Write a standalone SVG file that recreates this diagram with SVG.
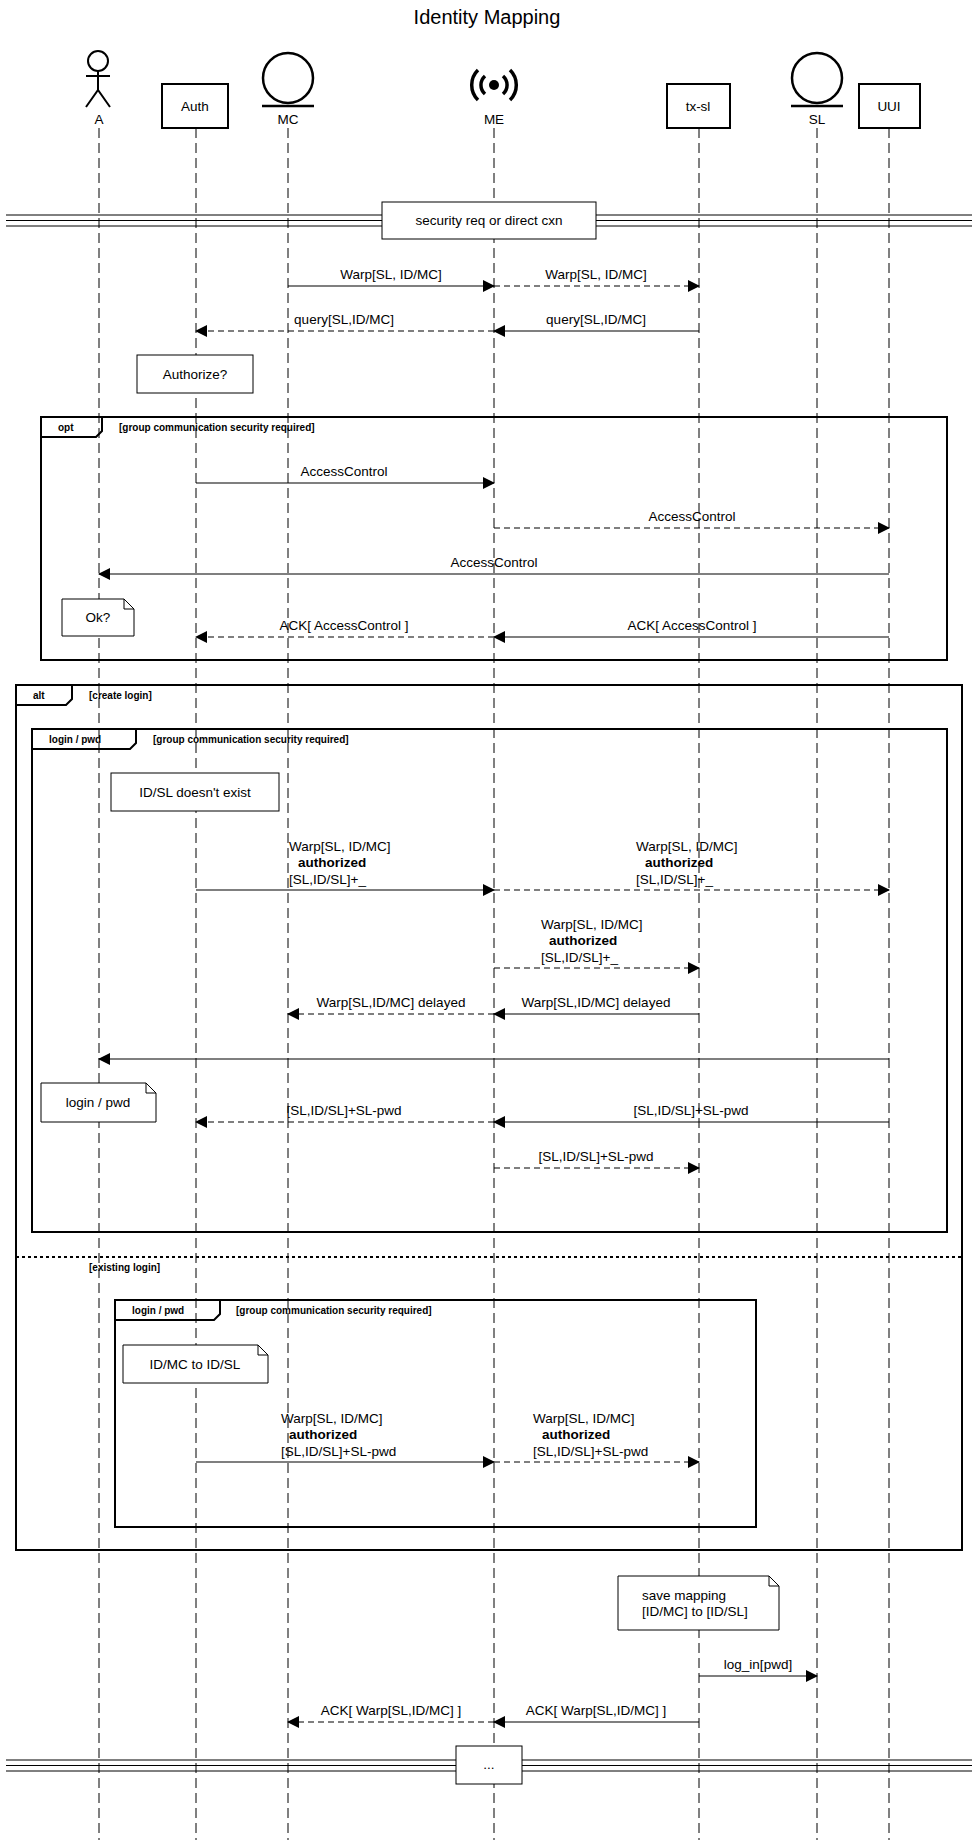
<svg xmlns="http://www.w3.org/2000/svg" width="974" height="1840" viewBox="0 0 974 1840">
<defs>
<marker id="ah" markerWidth="12" markerHeight="12" refX="11" refY="6" orient="auto" markerUnits="userSpaceOnUse"><path d="M0,0 L12,6 L0,12 z" fill="#000"/></marker>
<style>
text{font-family:"Liberation Sans",Arial,sans-serif;fill:#000}
.t{font-size:13.5px}
.c{text-anchor:middle}
.b{font-weight:bold}
.s{font-size:10px;font-weight:bold}
.life{stroke:#000;stroke-width:1;stroke-dasharray:10 5;fill:none}
.box{fill:#fff;stroke:#000;stroke-width:2}
.nb{fill:#fff;stroke:#000;stroke-width:1}
.fr{fill:none;stroke:#000;stroke-width:2}
.m{stroke:#000;stroke-width:1.2;fill:none;marker-end:url(#ah)}
.d{stroke-dasharray:6 4}
</style>
</defs>
<rect width="974" height="1840" fill="#fff"/>
<text x="487" y="24" class="c" style="font-size:20px">Identity Mapping</text>

<g id="lifelines">
<line class="life" x1="99" y1="128" x2="99" y2="1840"/>
<line class="life" x1="196" y1="128" x2="196" y2="1840"/>
<line class="life" x1="288" y1="128" x2="288" y2="1840"/>
<line class="life" x1="494" y1="128" x2="494" y2="1840"/>
<line class="life" x1="699" y1="128" x2="699" y2="1840"/>
<line class="life" x1="817" y1="128" x2="817" y2="1840"/>
<line class="life" x1="889" y1="128" x2="889" y2="1840"/>
</g>

<g id="A">
<circle cx="98" cy="61" r="10" fill="#fff" stroke="#000" stroke-width="2"/>
<line x1="98" y1="71" x2="98" y2="90" stroke="#000" stroke-width="2"/>
<line x1="86" y1="76" x2="110" y2="76" stroke="#000" stroke-width="2"/>
<path d="M86,107 L98,90 L110,107" fill="none" stroke="#000" stroke-width="2"/>
<text x="99" y="124" class="t c">A</text>
</g>
<g id="Auth"><rect class="box" x="162" y="84" width="66" height="44"/><text x="195" y="111" class="t c">Auth</text></g>
<g id="MC">
<circle cx="288" cy="78" r="25" fill="#fff" stroke="#000" stroke-width="2.5"/>
<line x1="262" y1="106" x2="314" y2="106" stroke="#000" stroke-width="2.5"/>
<text x="288" y="124" class="t c">MC</text>
</g>
<g id="ME">
<circle cx="494" cy="85" r="5" fill="#000"/>
<path d="M485,76 A12,12 0 0 0 485,94 M503,76 A12,12 0 0 1 503,94" fill="none" stroke="#000" stroke-width="3.5"/>
<path d="M478,70 A21,21 0 0 0 478,100 M510,70 A21,21 0 0 1 510,100" fill="none" stroke="#000" stroke-width="3.5"/>
<text x="494" y="124" class="t c">ME</text>
</g>
<g id="tx-sl"><rect class="box" x="667" y="84" width="63" height="44"/><text x="698" y="111" class="t c">tx-sl</text></g>
<g id="SL">
<circle cx="817" cy="78" r="25" fill="#fff" stroke="#000" stroke-width="2.5"/>
<line x1="791" y1="106" x2="843" y2="106" stroke="#000" stroke-width="2.5"/>
<text x="817" y="124" class="t c">SL</text>
</g>
<g id="UUI"><rect class="box" x="859" y="84" width="61" height="44"/><text x="889" y="111" class="t c">UUI</text></g>

<g id="divider1">
<line x1="6" y1="215" x2="972" y2="215" stroke="#000"/>
<line x1="6" y1="220.5" x2="972" y2="220.5" stroke="#000"/>
<line x1="6" y1="226" x2="972" y2="226" stroke="#000"/>
<rect class="nb" x="382" y="202" width="214" height="37"/>
<text x="489" y="225" class="t c">security req or direct cxn</text>
</g>

<g id="notes">
<rect class="nb" x="137" y="355" width="116" height="38"/>
<text x="195" y="379" class="t c">Authorize?</text>
<path class="nb" d="M62,599 H124 L134,609 V636 H62 Z M124,599 V609 H134"/>
<text x="98" y="622" class="t c">Ok?</text>
<rect class="nb" x="111" y="773" width="168" height="38"/>
<text x="195" y="797" class="t c">ID/SL doesn't exist</text>
<path class="nb" d="M41,1083 H146 L156,1093 V1122 H41 Z M146,1083 V1093 H156"/>
<text x="98" y="1107" class="t c">login / pwd</text>
<path class="nb" d="M123,1345 H258 L268,1355 V1383 H123 Z M258,1345 V1355 H268"/>
<text x="195" y="1369" class="t c">ID/MC to ID/SL</text>
<path class="nb" d="M618,1576 H769 L779,1586 V1630 H618 Z M769,1576 V1586 H779"/>
<text x="642" y="1600" class="t">save mapping</text>
<text x="642" y="1616" class="t">[ID/MC] to [ID/SL]</text>
</g>

<g id="frames">
<rect class="fr" x="41" y="417" width="906" height="243"/>
<path class="fr" d="M41,437 H96 L102,431 V417"/>
<text x="58" y="431" class="s">opt</text>
<text x="119" y="431" class="s">[group communication security required]</text>

<rect class="fr" x="16" y="685" width="946" height="865"/>
<path class="fr" d="M16,705 H66 L72,699 V685"/>
<text x="33" y="699" class="s">alt</text>
<text x="89" y="699" class="s">[create login]</text>

<rect class="fr" x="32" y="729" width="915" height="503"/>
<path class="fr" d="M32,749 H130 L136,743 V729"/>
<text x="49" y="743" class="s">login / pwd</text>
<text x="153" y="743" class="s">[group communication security required]</text>

<line x1="16" y1="1257" x2="962" y2="1257" stroke="#000" stroke-width="2" stroke-dasharray="3 3"/>
<text x="89" y="1271" class="s">[existing login]</text>

<rect class="fr" x="115" y="1300" width="641" height="227"/>
<path class="fr" d="M115,1320 H214 L220,1314 V1300"/>
<text x="132" y="1314" class="s">login / pwd</text>
<text x="236" y="1314" class="s">[group communication security required]</text>
</g>

<g id="connectors">
<line class="m" x1="288" y1="286" x2="494" y2="286"/>
<text x="391" y="279" class="t c">Warp[SL, ID/MC]</text>
<line class="m d" x1="494" y1="286" x2="699" y2="286"/>
<text x="596" y="279" class="t c">Warp[SL, ID/MC]</text>
<line class="m" x1="699" y1="331" x2="494" y2="331"/>
<text x="596" y="324" class="t c">query[SL,ID/MC]</text>
<line class="m d" x1="494" y1="331" x2="196" y2="331"/>
<text x="344" y="324" class="t c">query[SL,ID/MC]</text>

<line class="m" x1="196" y1="483" x2="494" y2="483"/>
<text x="344" y="476" class="t c">AccessControl</text>
<line class="m d" x1="494" y1="528" x2="889" y2="528"/>
<text x="692" y="521" class="t c">AccessControl</text>
<line class="m" x1="889" y1="574" x2="99" y2="574"/>
<text x="494" y="567" class="t c">AccessControl</text>
<line class="m" x1="889" y1="637" x2="494" y2="637"/>
<text x="692" y="630" class="t c">ACK[ AccessControl ]</text>
<line class="m d" x1="494" y1="637" x2="196" y2="637"/>
<text x="344" y="630" class="t c">ACK[ AccessControl ]</text>

<line class="m" x1="196" y1="890" x2="494" y2="890"/>
<text x="289" y="851" class="t">Warp[SL, ID/MC]</text>
<text x="298" y="867" class="t b">authorized</text>
<text x="289" y="884" class="t">[SL,ID/SL]+_</text>
<line class="m d" x1="494" y1="890" x2="889" y2="890"/>
<text x="636" y="851" class="t">Warp[SL, ID/MC]</text>
<text x="645" y="867" class="t b">authorized</text>
<text x="636" y="884" class="t">[SL,ID/SL]+_</text>
<line class="m d" x1="494" y1="968" x2="699" y2="968"/>
<text x="541" y="929" class="t">Warp[SL, ID/MC]</text>
<text x="549" y="945" class="t b">authorized</text>
<text x="541" y="962" class="t">[SL,ID/SL]+_</text>
<line class="m" x1="699" y1="1014" x2="494" y2="1014"/>
<text x="596" y="1007" class="t c">Warp[SL,ID/MC] delayed</text>
<line class="m d" x1="494" y1="1014" x2="288" y2="1014"/>
<text x="391" y="1007" class="t c">Warp[SL,ID/MC] delayed</text>
<line class="m" x1="889" y1="1059" x2="99" y2="1059"/>
<line class="m" x1="889" y1="1122" x2="494" y2="1122"/>
<text x="691" y="1115" class="t c">[SL,ID/SL]+SL-pwd</text>
<line class="m d" x1="494" y1="1122" x2="196" y2="1122"/>
<text x="344" y="1115" class="t c">[SL,ID/SL]+SL-pwd</text>
<line class="m d" x1="494" y1="1168" x2="699" y2="1168"/>
<text x="596" y="1161" class="t c">[SL,ID/SL]+SL-pwd</text>

<line class="m" x1="196" y1="1462" x2="494" y2="1462"/>
<text x="281" y="1423" class="t">Warp[SL, ID/MC]</text>
<text x="289" y="1439" class="t b">authorized</text>
<text x="281" y="1456" class="t">[SL,ID/SL]+SL-pwd</text>
<line class="m d" x1="494" y1="1462" x2="699" y2="1462"/>
<text x="533" y="1423" class="t">Warp[SL, ID/MC]</text>
<text x="542" y="1439" class="t b">authorized</text>
<text x="533" y="1456" class="t">[SL,ID/SL]+SL-pwd</text>

<line class="m" x1="699" y1="1676" x2="817" y2="1676"/>
<text x="758" y="1669" class="t c">log_in[pwd]</text>
<line class="m" x1="699" y1="1722" x2="494" y2="1722"/>
<text x="596" y="1715" class="t c">ACK[ Warp[SL,ID/MC] ]</text>
<line class="m d" x1="494" y1="1722" x2="288" y2="1722"/>
<text x="391" y="1715" class="t c">ACK[ Warp[SL,ID/MC] ]</text>
</g>

<g id="divider2">
<line x1="6" y1="1760" x2="972" y2="1760" stroke="#000"/>
<line x1="6" y1="1765.5" x2="972" y2="1765.5" stroke="#000"/>
<line x1="6" y1="1771" x2="972" y2="1771" stroke="#000"/>
<rect class="nb" x="456" y="1746" width="66" height="38"/>
<text x="489" y="1769" class="t c">...</text>
</g>
</svg>
